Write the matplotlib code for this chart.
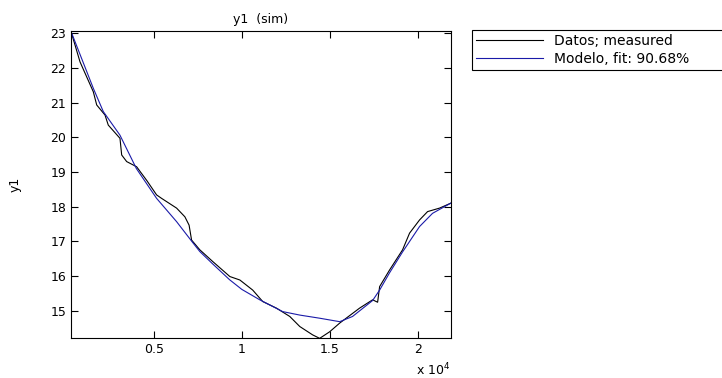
import numpy as np
import matplotlib.pyplot as plt

# measured data (sample index, y1)
meas_x = [280, 795, 1551, 1744, 2216, 2403, 3068, 3165, 3449, 4017, 4600, 5153, 5438,
          6290, 6761, 7000, 7142, 7610, 8350, 9320, 9890, 10620, 11190, 11970,
          12730, 13300, 14030, 14430, 15000, 15570, 16700, 17443, 17727, 17841,
          18409, 19148, 19545, 20114, 20570, 21250, 21880]
meas_y = [23.05, 22.17, 21.31, 20.93, 20.64, 20.35, 19.97, 19.49, 19.3, 19.15, 18.75, 18.34, 18.24,
          17.96, 17.71, 17.47, 17.04, 16.76, 16.42, 15.99, 15.89, 15.6, 15.27, 15.08,
          14.84, 14.55, 14.31, 14.21, 14.4, 14.65, 15.08, 15.32, 15.25, 15.7,
          16.18, 16.76, 17.24, 17.62, 17.86, 17.96, 18.1]

# model simulated output
model_x = [280, 1551, 2119, 3068, 4000, 5153, 6290, 7220, 7610, 8350, 9300, 10000,
           11020, 12330, 13300, 14430, 15570, 16300, 17443, 17841, 18409, 19148,
           20114, 20852, 21880]
model_y = [23.05, 21.41, 20.74, 20.06, 19.1, 18.24, 17.57, 16.96, 16.71, 16.35, 15.9, 15.62,
           15.32, 14.98, 14.88, 14.79, 14.69, 14.84, 15.3, 15.6, 16.1, 16.7,
           17.43, 17.81, 18.1]

plt.rcParams['font.size'] = 9

fig = plt.figure(figsize=(7.22, 3.78), dpi=100)
ax = fig.add_axes([0.0983, 0.1058, 0.5263, 0.8122])

ax.plot(meas_x, meas_y, color="black", linewidth=0.8, label="Datos; measured")
ax.plot(model_x, model_y, color="#1a1aa8", linewidth=0.8, label="Modelo, fit: 90.68%")

ax.set_xlim(280, 21900)
ax.set_ylim(14.22, 23.06)
ax.set_xticks([5000, 10000, 15000, 20000])
ax.set_xticklabels(["0.5", "1", "1.5", "2"])
ax.set_yticks(range(15, 24))
ax.tick_params(direction="in", top=True, right=True, length=5, width=0.8)
for s in ax.spines.values():
    s.set_linewidth(0.8)

ax.set_title("y1  (sim)", fontsize=9)
ax.set_ylabel("y1")
ax.yaxis.set_label_coords(-0.13, 0.5)
fig.text(450 / 722, 1 - 370 / 378, r"x $10^4$", ha="right", va="center", fontsize=9)

leg = ax.legend(loc="upper left", bbox_to_anchor=(1.055, 0.89, 0.75, 0.113),
                mode="expand", borderaxespad=0,
                fancybox=False, framealpha=1, edgecolor="black", handlelength=4.8,
                fontsize=10, labelspacing=0.25, borderpad=0.3)
leg.get_frame().set_linewidth(0.8)

plt.savefig("out.png", dpi=100)
